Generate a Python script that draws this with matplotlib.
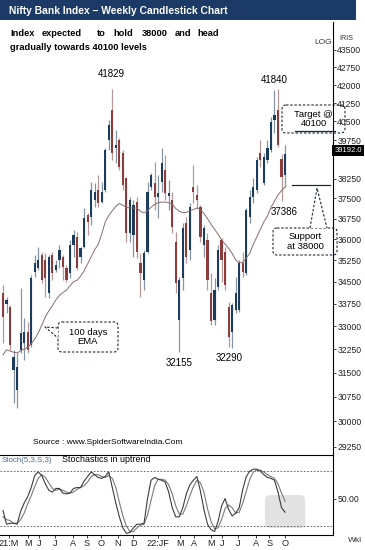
import numpy as np
import matplotlib
matplotlib.use('Agg')
import matplotlib.pyplot as plt
from matplotlib.patches import Rectangle, FancyBboxPatch, Polygon
from matplotlib.lines import Line2D
from matplotlib.transforms import Affine2D, blended_transform_factory
from matplotlib.ticker import FixedLocator, FixedFormatter, NullLocator

# --- weekly Nifty Bank candles, late Mar 2021 .. first week of Oct 2022 ---
opens = [34120, 33740, 33640, 31590, 30960, 32230, 32450, 32810, 32390, 34840,
         34980, 35440, 35260, 34120, 35440, 34910, 35260, 35370, 34980, 34800,
         35790, 36080, 35370, 35720, 36880, 36810, 37440, 37820, 37370, 37820,
         39760, 40970, 39440, 39760, 39240, 38270, 36230, 36150, 37370, 35150,
         34560, 35540, 37930, 38080, 37550, 38120, 38580, 37590, 37440, 35900,
         33210, 34630, 36590, 35620, 37930, 37630, 37180, 35790, 35970, 34120,
         33210, 34320, 35970, 35540, 33640, 32810, 33540, 33540, 35150, 34800,
         36810, 37550, 37820, 39240, 38080, 38970, 39360, 40560, 40970, 39010,
         38390]
highs = [34390, 33980, 33710, 32230, 32130, 34290, 33270, 33140, 34740, 35440,
         35720, 35540, 35510, 35440, 35540, 35260, 35790, 35440, 35090, 35970,
         36330, 36260, 35720, 37140, 36960, 38120, 38080, 38390, 38120, 39440,
         40560, 41829, 40160, 39840, 39360, 38310, 37550, 37440, 37550, 35510,
         35620, 38120, 38470, 38890, 38390, 39440, 39170, 38200, 37740, 36260,
         34670, 36590, 36810, 37330, 38780, 38010, 37250, 36520, 36230, 34800,
         34630, 35790, 36050, 35720, 33810, 33780, 34670, 35260, 35540, 37140,
         37820, 38270, 39090, 39760, 39240, 39760, 40680, 41790, 41840, 39200,
         39560]
lows = [32450, 33440, 32230, 30560, 30410, 32130, 31900, 32130, 32320, 34670,
        34910, 34460, 33980, 33950, 34560, 34840, 34980, 34560, 34490, 34630,
        35370, 34910, 35150, 35690, 36150, 36520, 37180, 37180, 37330, 37740,
        39360, 38970, 38850, 38580, 37820, 35900, 35900, 35370, 35330, 33980,
        34220, 35510, 37820, 37070, 36770, 37740, 37440, 37070, 36230, 34120,
        32155, 34220, 35150, 35260, 37330, 37140, 35900, 35370, 34220, 33040,
        33040, 34220, 34490, 34220, 32320, 32290, 33440, 33470, 34670, 34740,
        36590, 37330, 37700, 38700, 38010, 38850, 39280, 40040, 39480, 37386,
        37930]
closes = [33310, 33880, 32390, 32000, 31680, 32780, 32810, 32230, 34630, 35150,
          35260, 34560, 34630, 35370, 34800, 35090, 35620, 35020, 34560, 35790,
          36150, 34980, 35690, 36770, 36630, 37820, 37740, 37330, 37740, 39360,
          40360, 39240, 39560, 38700, 38010, 36230, 37440, 37250, 35540, 34800,
          35510, 37740, 38390, 37550, 37700, 38850, 37700, 37700, 36440, 34460,
          34560, 36410, 35370, 37180, 37740, 37440, 36080, 36410, 34560, 33170,
          34220, 35620, 35260, 34390, 32650, 33710, 34120, 35150, 34840, 37070,
          37550, 37930, 38970, 38970, 39090, 39440, 40480, 40760, 39560, 38310,
          39192]
ema100 = [32070, 32230, 32190, 32150, 32130, 32190, 32260, 32310, 32420, 32580,
          32780, 33030, 33310, 33510, 33680, 33880, 34030, 34130, 34210, 34360,
          34500, 34550, 34690, 34880, 35120, 35370, 35620, 35810, 36190, 36630,
          36860, 37040, 37200, 37310, 37240, 37170, 37140, 37140, 37140, 37010,
          36960, 37040, 37170, 37270, 37340, 37360, 37360, 37340, 37280, 37120,
          37020, 36970, 36980, 37030, 37080, 37140, 37080, 36940, 36750, 36540,
          36360, 36180, 35980, 35820, 35670, 35490, 35260, 35160, 35180, 35330,
          35490, 35820, 36080, 36360, 36630, 36840, 37170, 37390, 37630, 37790,
          37930]
stoch_k = [37, 22, 23, 23, 22, 36, 45, 52, 62, 75,
           79, 75, 66, 59, 57, 61, 61, 56, 55, 56,
           61, 62, 62, 69, 74, 79, 76, 73, 72, 74,
           79, 62, 45, 30, 18, 12, 13, 18, 22, 22,
           23, 50, 70, 73, 71, 70, 68, 57, 40, 30,
           30, 40, 55, 65, 70, 74, 58, 38, 22, 16,
           14, 25, 42, 50, 38, 31, 34, 40, 60, 74,
           80, 82, 82, 80, 76, 73, 72, 70, 57, 40,
           35]
stoch_d = [30, 27, 26, 23, 23, 27, 34, 44, 53, 63,
           72, 76, 73, 67, 61, 59, 60, 59, 57, 56,
           57, 60, 62, 64, 68, 74, 76, 76, 74, 73,
           75, 72, 62, 46, 31, 20, 14, 14, 18, 21,
           22, 32, 48, 64, 71, 71, 70, 65, 55, 42,
           33, 33, 42, 53, 63, 70, 67, 57, 39, 25,
           17, 18, 27, 39, 43, 40, 34, 35, 45, 58,
           71, 79, 81, 81, 79, 76, 74, 72, 66, 56,
           47]
price_ticks = [43500, 42750, 42000, 41250, 40500, 39750, 38250, 37500, 36750,
               36000, 35250, 34500, 33750, 33000, 32250, 31500, 30750, 30000, 29250]
month_pos = [1.7, 7.1, 10.2, 14.8, 19.9, 23.8, 27.8, 32.6, 36.9, 44.0,
             50.2, 54.2, 59.0, 62.1, 66.7, 71.8, 75.5, 80.0]
month_labels = ['21:M', 'M', 'J', 'J', 'A', 'S', 'O', 'N', 'D', '22:JF',
                'M', 'A', 'M', 'J', 'J', 'A', 'S', 'O']
target_level = 40100
support_level = 38000

plt.rcParams['font.family'] = ['Liberation Sans', 'DejaVu Sans']

BLUE = '#1d3b5c'
RED = '#8e3b3b'
NAVY = '#1c3a66'
INK = '#1a2a3a'

W, H = 365, 550
fig = plt.figure(figsize=(W / 100, H / 100), dpi=100)
# pixel coordinates with origin at top-left, used for the page furniture
PX = Affine2D().scale(0.01, -0.01).translate(0, H / 100) + fig.dpi_scale_trans

ax = fig.add_axes([0, 1 - 455 / H, 333 / W, (455 - 22) / H])
ax2 = fig.add_axes([0, 1 - 535 / H, 333 / W, 80 / H], sharex=ax)

# --- candles ---
o = np.array(opens, float)
hi = np.array(highs, float)
lo = np.array(lows, float)
c = np.array(closes, float)
x = np.arange(len(c))
up = c >= o
ax.vlines(x, lo, hi, colors=np.where(up, '#8593a3', '#b69898'), lw=0.9, zorder=2)
ax.bar(x, np.abs(c - o), bottom=np.minimum(o, c), width=0.62,
       color=np.where(up, BLUE, RED), lw=0, zorder=3)
ax.plot(x, ema100, color='#8a6d6d', lw=0.7, zorder=4)

ax.set_yscale('log')
ax.set_ylim(29010, 44735)
ax.set_xlim(-0.85, 93.6)
ax.yaxis.tick_right()
ax.yaxis.set_major_locator(FixedLocator(price_ticks))
ax.yaxis.set_major_formatter(FixedFormatter([str(t) for t in price_ticks]))
ax.yaxis.set_minor_locator(NullLocator())
ax.tick_params(axis='y', direction='out', length=2, width=0.6, pad=1,
               labelsize=6.2, colors='#222222')
ax.tick_params(axis='x', bottom=False, labelbottom=False)
for s in ['left', 'top', 'bottom']:
    ax.spines[s].set_visible(False)
ax.spines['right'].set_linewidth(0.8)

# swing labels
ipk = int(np.argmax(hi[:50]))
ax.annotate(f'{int(hi[ipk])}', (ipk, hi[ipk]), xytext=(-1, 7), textcoords='offset points',
            ha='center', va='bottom', fontsize=7)
ipk2 = int(np.argmax(hi))
ax.annotate(f'{int(hi[ipk2])}', (ipk2, hi[ipk2]), xytext=(-3, 3), textcoords='offset points',
            ha='center', va='bottom', fontsize=7)
for i, dx in [(int(np.argmin(lo[40:60])) + 40, 0), (int(np.argmin(lo[60:70])) + 60, -2),
              (len(lo) - 2, 2)]:
    ax.annotate(f'{int(lo[i])}', (i, lo[i]), xytext=(dx, -4), textcoords='offset points',
                ha='center', va='top', fontsize=7)

# target / support levels
ax.plot([82.8, 94.2], [target_level] * 2, color=INK, lw=0.9, clip_on=False, zorder=5)
ax.plot([82.0, 92.8], [support_level] * 2, color=INK, lw=0.9, clip_on=False, zorder=5)

# last price tag
bt = blended_transform_factory(ax.transAxes, ax.transData)
ax.text(1.004, c[-1] * 1.004, f'{c[-1]:.1f}', transform=bt, color='white',
        fontsize=5.5, ha='left', va='center', clip_on=False, zorder=10,
        bbox=dict(boxstyle='square,pad=0.25', fc='black', ec='none'))

# --- stochastics ---
ax2.add_patch(FancyBboxPatch((74.3, 17.8), 11.4, 36, boxstyle='round,pad=0,rounding_size=1.4',
                             mutation_aspect=3.84, fc='#e2e2e2', ec='none', zorder=0))
ax2.axhline(80, color='#555555', lw=0.6, dashes=(2, 2))
ax2.axhline(20, color='#555555', lw=0.6, dashes=(2, 2))
ax2.plot(x, stoch_d, color='#7a7a7a', lw=0.8)
ax2.plot(x, stoch_k, color='#3c3c3c', lw=0.8)
ax2.set_ylim(10.2, 97.5)
ax2.yaxis.tick_right()
ax2.set_yticks([50])
ax2.set_yticklabels(['50.00'])
ax2.set_xticks(month_pos)
ax2.set_xticklabels(month_labels)
ax2.tick_params(axis='y', direction='out', length=2, width=0.6, pad=1,
                labelsize=6.2, colors='#222222')
ax2.tick_params(axis='x', direction='out', length=2, width=0.6, pad=1,
                labelsize=6.6, colors='#222222')
ax2.spines['left'].set_visible(False)
for s in ['top', 'bottom', 'right']:
    ax2.spines[s].set_linewidth(0.8)

# --- page furniture in pixel coordinates ---
fig.add_artist(Rectangle((0, 0), 356, 20, transform=PX, fc=NAVY, ec='none'))
fig.text(9, 10.5, 'Nifty Bank Index \u2013 Weekly Candlestick Chart', transform=PX,
         color='white', fontsize=7.4, fontweight='bold', va='center', ha='left')

words = ['Index', 'expected', 'to', 'hold', '38000', 'and', 'head']
word_x = [10, 42, 97, 113, 142, 175, 197]
for wd, wx in zip(words, word_x):
    fig.text(wx, 34, wd, transform=PX, fontsize=6.7, fontweight='bold',
             va='center', ha='left')
fig.text(10, 47, 'gradually towards 40100 levels', transform=PX, fontsize=6.7,
         fontweight='bold', va='center', ha='left')

fig.text(323, 43, 'LOG', transform=PX, fontsize=6, ha='center', va='center', color='#333333')
fig.text(346, 39, 'IRIS', transform=PX, fontsize=5.2, ha='center', va='center', color='#333333')
fig.text(33, 443, 'Source : www.SpiderSoftwareIndia.Com', transform=PX, fontsize=6,
         ha='left', va='center')
fig.text(2, 460, 'Stoch(5,3,S,3)', transform=PX, fontsize=5.7, ha='left', va='center',
         color='#4f6a86')
fig.text(62, 460, 'Stochastics in uptrend', transform=PX, fontsize=6.4, ha='left',
         va='center')
fig.text(355, 541, 'Wkl', transform=PX, fontsize=6, ha='center', va='center',
         color='#333333')


def callout(x0, y0, x1, y1, text, tip=None, base=None):
    fig.add_artist(FancyBboxPatch((x0, y0), x1 - x0, y1 - y0,
                                  boxstyle='round,pad=0,rounding_size=4', transform=PX,
                                  fc='none', ec=INK, lw=0.8, ls=(0, (2.2, 1.6))))
    if tip is not None:
        fig.add_artist(Polygon([base[0], tip, base[1]], closed=True, transform=PX,
                               fc='white', ec='none'))
        fig.add_artist(Line2D([base[0][0], tip[0], base[1][0]], [base[0][1], tip[1], base[1][1]],
                              transform=PX, color=INK, lw=0.8, ls=(0, (2.2, 1.6))))
    fig.text((x0 + x1) / 2, (y0 + y1) / 2, text, transform=PX, fontsize=6.8,
             ha='center', va='center', linespacing=1.05)


callout(58, 322, 118, 352, '100 days\nEMA', tip=(45, 327), base=[(58, 328), (58, 338)])
callout(282, 105, 345, 133, 'Target @\n40100')
callout(273, 228, 337, 255, 'Support\nat 38000', tip=(317, 188), base=[(310, 228), (327, 228)])

fig.savefig('out.png', dpi=100)
